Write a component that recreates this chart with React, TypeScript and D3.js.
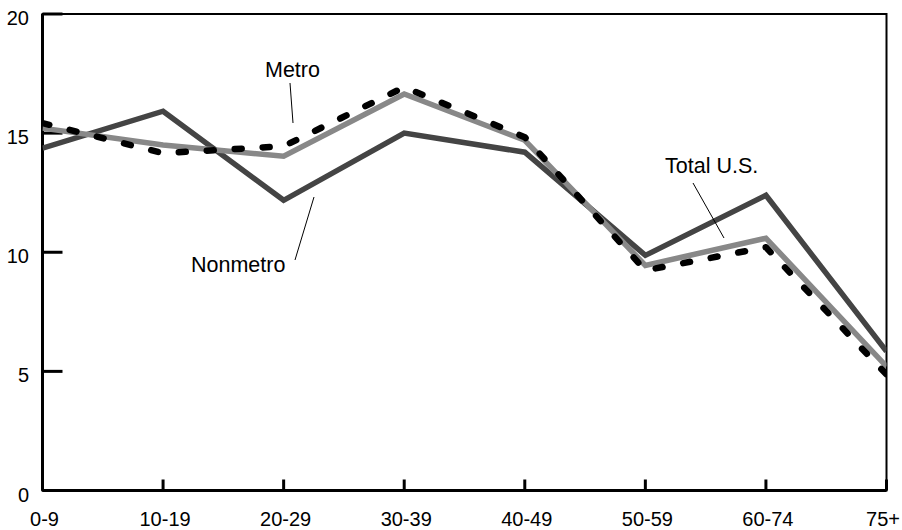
import React from "react";
import * as d3 from "d3";

const categories = ["0-9", "10-19", "20-29", "30-39", "40-49", "50-59", "60-74", "75+"];
const nonmetro = [14.37, 15.92, 12.18, 15.0, 14.2, 9.87, 12.39, 5.84];
const totalUS = [15.21, 14.5, 14.03, 16.64, 14.7, 9.45, 10.59, 5.21];
const metro = [15.42, 14.16, 14.45, 16.93, 14.83, 9.24, 10.21, 4.87];
const yTicks = [0, 5, 10, 15, 20];

const W = 902;
const H = 530;
const left = 42.5;
const right = 886.5;
const top = 14;
const bottom = 490.5;

export default function App() {
  const x = d3.scalePoint<string>().domain(categories).range([left, right]);
  const y = d3.scaleLinear().domain([0, 20]).range([bottom, top]);
  const line = d3
    .line<number>()
    .x((_, i) => x(categories[i]) as number)
    .y((d) => y(d));
  const font = "'Liberation Sans', Arial, Helvetica, sans-serif";

  return (
    <svg
      width={W}
      height={H}
      style={{ position: "fixed", left: 0, top: 0, background: "#fff" }}
      fontFamily={font}
    >
      <rect x={0} y={0} width={W} height={H} fill="#fff" />
      <defs>
        <clipPath id="plot">
          <rect x={left} y={top - 4} width={right - left} height={bottom - top + 8} />
        </clipPath>
      </defs>
      {/* frame */}
      <rect x={left} y={top} width={right - left} height={bottom - top} fill="none" stroke="#000" strokeWidth={2} />
      <line x1={left} x2={left} y1={top} y2={bottom} stroke="#000" strokeWidth={3} />
      <line x1={left} x2={right} y1={bottom} y2={bottom} stroke="#000" strokeWidth={3} />
      {/* y ticks */}
      {yTicks.map((t) => (
        <g key={t}>
          <line x1={left} x2={left + 20} y1={y(t)} y2={y(t)} stroke="#000" strokeWidth={3} />
          <text x={29} y={y(t) + 11} textAnchor="end" fontSize={20} fill="#000">
            {t}
          </text>
        </g>
      ))}
      {/* x ticks */}
      {categories.map((c, i) => {
        const last = i === categories.length - 1;
        return (
          <g key={c}>
            <line x1={x(c)} x2={x(c)} y1={bottom} y2={bottom - 11} stroke="#000" strokeWidth={3} />
            <text
              x={last ? 900 : (x(c) as number) + 2}
              y={526}
              textAnchor={last ? "end" : "middle"}
              fontSize={20}
              fill="#000"
            >
              {c}
            </text>
          </g>
        );
      })}
      {/* series */}
      <g clipPath="url(#plot)">
        <path d={line(nonmetro) || ""} fill="none" stroke="#444" strokeWidth={5.5} strokeLinejoin="miter" />
        <path d={line(totalUS) || ""} fill="none" stroke="#888" strokeWidth={5.5} strokeLinejoin="miter" />
        <path
          d={line(metro) || ""}
          fill="none"
          stroke="#000"
          strokeWidth={6.5}
          strokeDasharray="7 21"
          strokeLinecap="round"
          strokeLinejoin="round"
        />
      </g>
      {/* annotations */}
      <text x={265} y={77} fontSize={21.5} fill="#000">Metro</text>
      <line x1={290} y1={83} x2={293} y2={123} stroke="#000" strokeWidth={1} />
      <text x={191} y={272} fontSize={21.5} fill="#000">Nonmetro</text>
      <line x1={295} y1={260} x2={314} y2={197} stroke="#000" strokeWidth={1} />
      <text x={665} y={173} fontSize={21.5} fill="#000">Total U.S.</text>
      <line x1={693} y1={183} x2={724} y2={238} stroke="#000" strokeWidth={1} />
    </svg>
  );
}
